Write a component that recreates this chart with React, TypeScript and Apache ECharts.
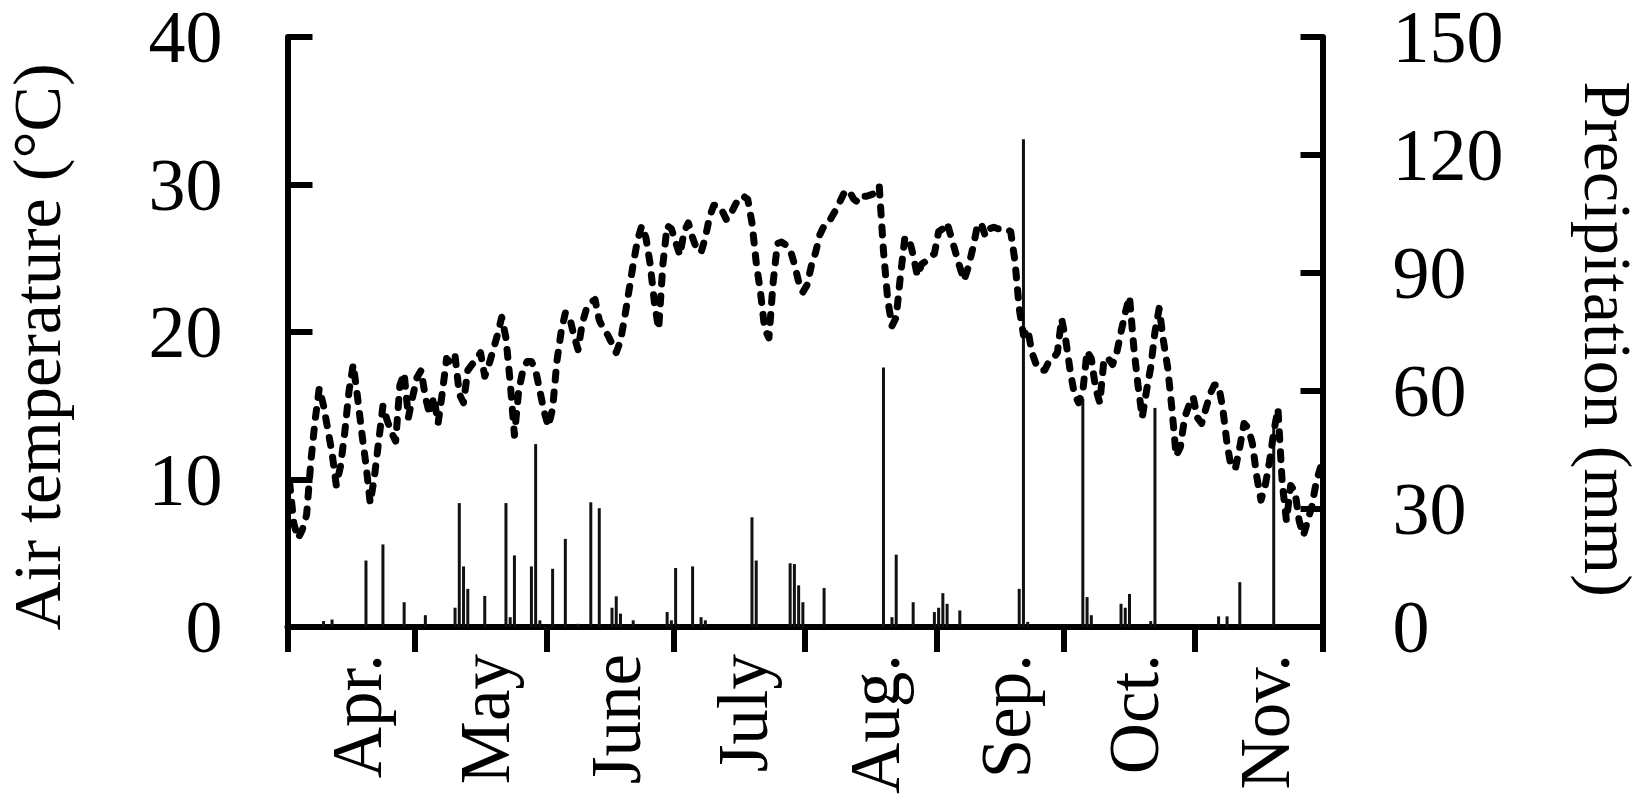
import React, { useEffect, useRef } from "react";
import * as echarts from "echarts";

const monthNames = ["Apr.", "May", "June", "July", "Aug.", "Sep.", "Oct.", "Nov."];
const monthLengths = [30, 31, 30, 31, 31, 30, 31, 30];

// daily mean air temperature (°C), Apr 1 – Nov 30
const temperature = [
  // Apr
  9.8, 7.0, 6.0, 6.6, 7.6, 11.2, 14.0, 16.2, 15.0, 13.4,
  11.8, 9.6, 10.9, 13.2, 16.0, 17.8, 15.6, 13.2, 11.0, 8.4,
  10.2, 12.6, 15.0, 14.0, 13.2, 12.6, 16.4, 17.2, 14.2, 15.6,
  // May
  16.9, 17.4, 15.6, 14.4, 15.6, 13.8, 15.9, 18.2, 17.9, 18.4,
  15.8, 15.2, 17.4, 17.8, 18.1, 18.6, 17.0, 17.8, 18.8, 19.8,
  21.0, 19.6, 16.6, 13.0, 16.0, 17.4, 18.0, 18.0, 17.4, 16.0, 14.6,
  // June
  13.6, 14.8, 18.0, 20.0, 21.3, 21.0, 19.8, 18.8, 20.6, 21.6,
  22.0, 22.2, 20.8, 20.2, 19.8, 19.2, 18.6, 19.4, 21.0, 22.8,
  24.6, 26.2, 27.2, 26.4, 24.6, 22.0, 20.2, 24.6, 27.2, 27.0,
  // July
  26.1, 25.2, 26.8, 27.4, 26.4, 25.6, 25.4, 26.4, 27.8, 28.6,
  28.6, 28.2, 27.6, 28.0, 28.6, 29.1, 29.2, 29.0, 27.4, 24.7,
  22.7, 20.2, 19.6, 23.4, 26.0, 26.1, 25.9, 25.6, 24.6, 23.4, 22.7,
  // Aug
  23.2, 24.5, 25.4, 26.6, 27.2, 27.4, 27.9, 28.4, 29.0, 29.6,
  29.5, 29.0, 28.8, 29.2, 29.2, 29.3, 29.4, 29.9, 25.5, 22.2,
  20.4, 21.0, 23.8, 26.3, 26.4, 25.2, 23.8, 24.6, 24.8, 25.1, 25.3,
  // Sep
  26.8, 27.0, 27.4, 26.4, 25.4, 24.4, 23.5, 24.4, 25.6, 27.0,
  27.4, 26.5, 27.0, 27.1, 27.0, 27.0, 27.0, 26.8, 24.8, 21.6,
  19.8, 20.2, 18.6, 17.8, 17.4, 17.4, 18.0, 18.2, 18.6, 20.9,
  // Oct
  19.4, 17.4, 15.8, 15.2, 16.0, 18.7, 18.2, 16.2, 15.2, 18.2,
  18.2, 17.8, 18.6, 20.0, 21.3, 22.4, 19.0, 16.4, 14.2, 16.0,
  17.6, 20.0, 21.6, 19.4, 17.6, 14.8, 11.6, 12.2, 14.2, 15.0, 15.6,
  // Nov
  14.2, 13.8, 14.8, 15.8, 16.4, 16.4, 14.8, 12.4, 10.8, 10.8,
  12.2, 13.8, 13.5, 12.4, 10.2, 8.6, 9.6, 11.2, 13.2, 14.8,
  9.8, 7.2, 9.6, 9.2, 7.2, 6.2, 7.2, 8.2, 9.8, 10.8,
];

// rainy days (index from Apr 1) and their precipitation (mm)
const rainDayIndex = [
  8, 10, 18, 22, 27, 32, 39, 40, 41, 42, 46, 51, 52, 53, 57, 58, 59,
  62, 65, 68, 71, 73, 76, 77, 78, 81, 89, 90,
  91, 95, 97, 98, 109, 110, 118, 119, 120, 121,
  126, 140, 142, 143, 147, 152,
  153, 154, 155, 158, 172, 173, 174,
  187, 188, 189, 196, 197, 198, 203, 204,
  219, 221, 224, 232,
];
const rainAmount = [
  1.5, 1.9, 16.9, 21, 6.3, 3, 4.9, 31.5, 15.4, 9.7, 7.9, 31.5, 2.5, 18.2, 15.4, 46.5, 1.7,
  14.8, 22.4, 0.8, 31.7, 30.2, 4.9, 7.8, 3.4, 1.7, 3.8, 1.7,
  15, 15.4, 2.5, 1.7, 27.9, 16.9, 16.2, 16, 10.6, 6.3,
  9.9, 66, 2.5, 18.4, 6.3, 3.8,
  4.9, 8.6, 5.9, 4.2, 9.7, 124, 1.3,
  58, 7.6, 3, 5.9, 4.9, 8.4, 1.5, 55.7,
  2.7, 2.7, 11.4, 52,
];

const tempTicks = { min: 0, max: 40, interval: 10 };
const precTicks = { min: 0, max: 150, interval: 30 };

export default function App() {
  const ref = useRef<HTMLDivElement>(null);

  useEffect(() => {
    if (!ref.current) return;
    const chart = echarts.init(ref.current, undefined, { renderer: "svg" });

    const categories: string[] = [];
    const monthStarts = new Set<number>();
    const labelIdx = new Set<number>();
    let idx = 0;
    monthNames.forEach((m, k) => {
      monthStarts.add(idx);
      labelIdx.add(idx + 16);
      for (let d = 1; d <= monthLengths[k]; d++) {
        categories.push(m + " " + d);
      }
      idx += monthLengths[k];
    });

    const precip: number[] = categories.map(() => 0);
    rainDayIndex.forEach((d, i) => {
      precip[d] = rainAmount[i];
    });

    const font = "Liberation Serif";

    chart.setOption({
      animation: false,
      grid: { left: 287.5, right: 324.5, top: 34, bottom: 177, containLabel: false },
      xAxis: {
        type: "category",
        data: categories,
        boundaryGap: true,
        axisLine: { lineStyle: { color: "#000", width: 6 } },
        axisTick: {
          show: true,
          interval: (i: number) => monthStarts.has(i),
          length: 25,
          lineStyle: { color: "#000", width: 6 },
        },
        axisLabel: {
          interval: (i: number) => labelIdx.has(i),
          rotate: 90,
          margin: 27,
          fontSize: 71,
          fontFamily: font,
          color: "#000",
          formatter: (v: string) => v.split(" ")[0],
        },
        splitLine: { show: false },
      },
      yAxis: [
        {
          type: "value",
          position: "left",
          min: tempTicks.min,
          max: tempTicks.max,
          interval: tempTicks.interval,
          axisLine: { show: true, lineStyle: { color: "#000", width: 6 } },
          axisTick: { show: true, inside: true, length: 25, lineStyle: { color: "#000", width: 6 } },
          axisLabel: { margin: 65, fontSize: 74, lineHeight: 60, fontFamily: font, color: "#000" },
          splitLine: { show: false },
        },
        {
          type: "value",
          position: "right",
          min: precTicks.min,
          max: precTicks.max,
          interval: precTicks.interval,
          axisLine: { show: true, lineStyle: { color: "#000", width: 6 } },
          axisTick: { show: true, inside: true, length: 22, lineStyle: { color: "#000", width: 6 } },
          axisLabel: { margin: 70, fontSize: 74, lineHeight: 60, fontFamily: font, color: "#000" },
          splitLine: { show: false },
        },
      ],
      series: [
        {
          name: "Precipitation",
          type: "bar",
          yAxisIndex: 1,
          data: precip,
          barWidth: 3,
          itemStyle: { color: "#111" },
          z: 2,
        },
        {
          name: "Air temperature",
          type: "line",
          yAxisIndex: 0,
          data: temperature,
          showSymbol: false,
          symbol: "none",
          lineStyle: { color: "#000", width: 7, type: [8, 12], cap: "round", join: "round" },
          z: 3,
        },
      ],
      graphic: [
        {
          type: "text",
          x: 37,
          y: 347,
          rotation: Math.PI / 2,
          style: {
            text: "Air temperature (°C)",
            fontSize: 68,
            lineHeight: 56,
            fontFamily: font,
            fill: "#000",
            align: "center",
            verticalAlign: "middle",
          },
        },
        {
          type: "text",
          x: 1608,
          y: 339,
          rotation: -Math.PI / 2,
          style: {
            text: "Precipitation (mm)",
            fontSize: 68,
            lineHeight: 56,
            fontFamily: font,
            fill: "#000",
            align: "center",
            verticalAlign: "middle",
          },
        },
      ],
    });

    return () => chart.dispose();
  }, []);

  return (
    <div
      ref={ref}
      style={{ position: "absolute", left: 0, top: 0, width: 1647, height: 804, background: "#fff" }}
    />
  );
}
